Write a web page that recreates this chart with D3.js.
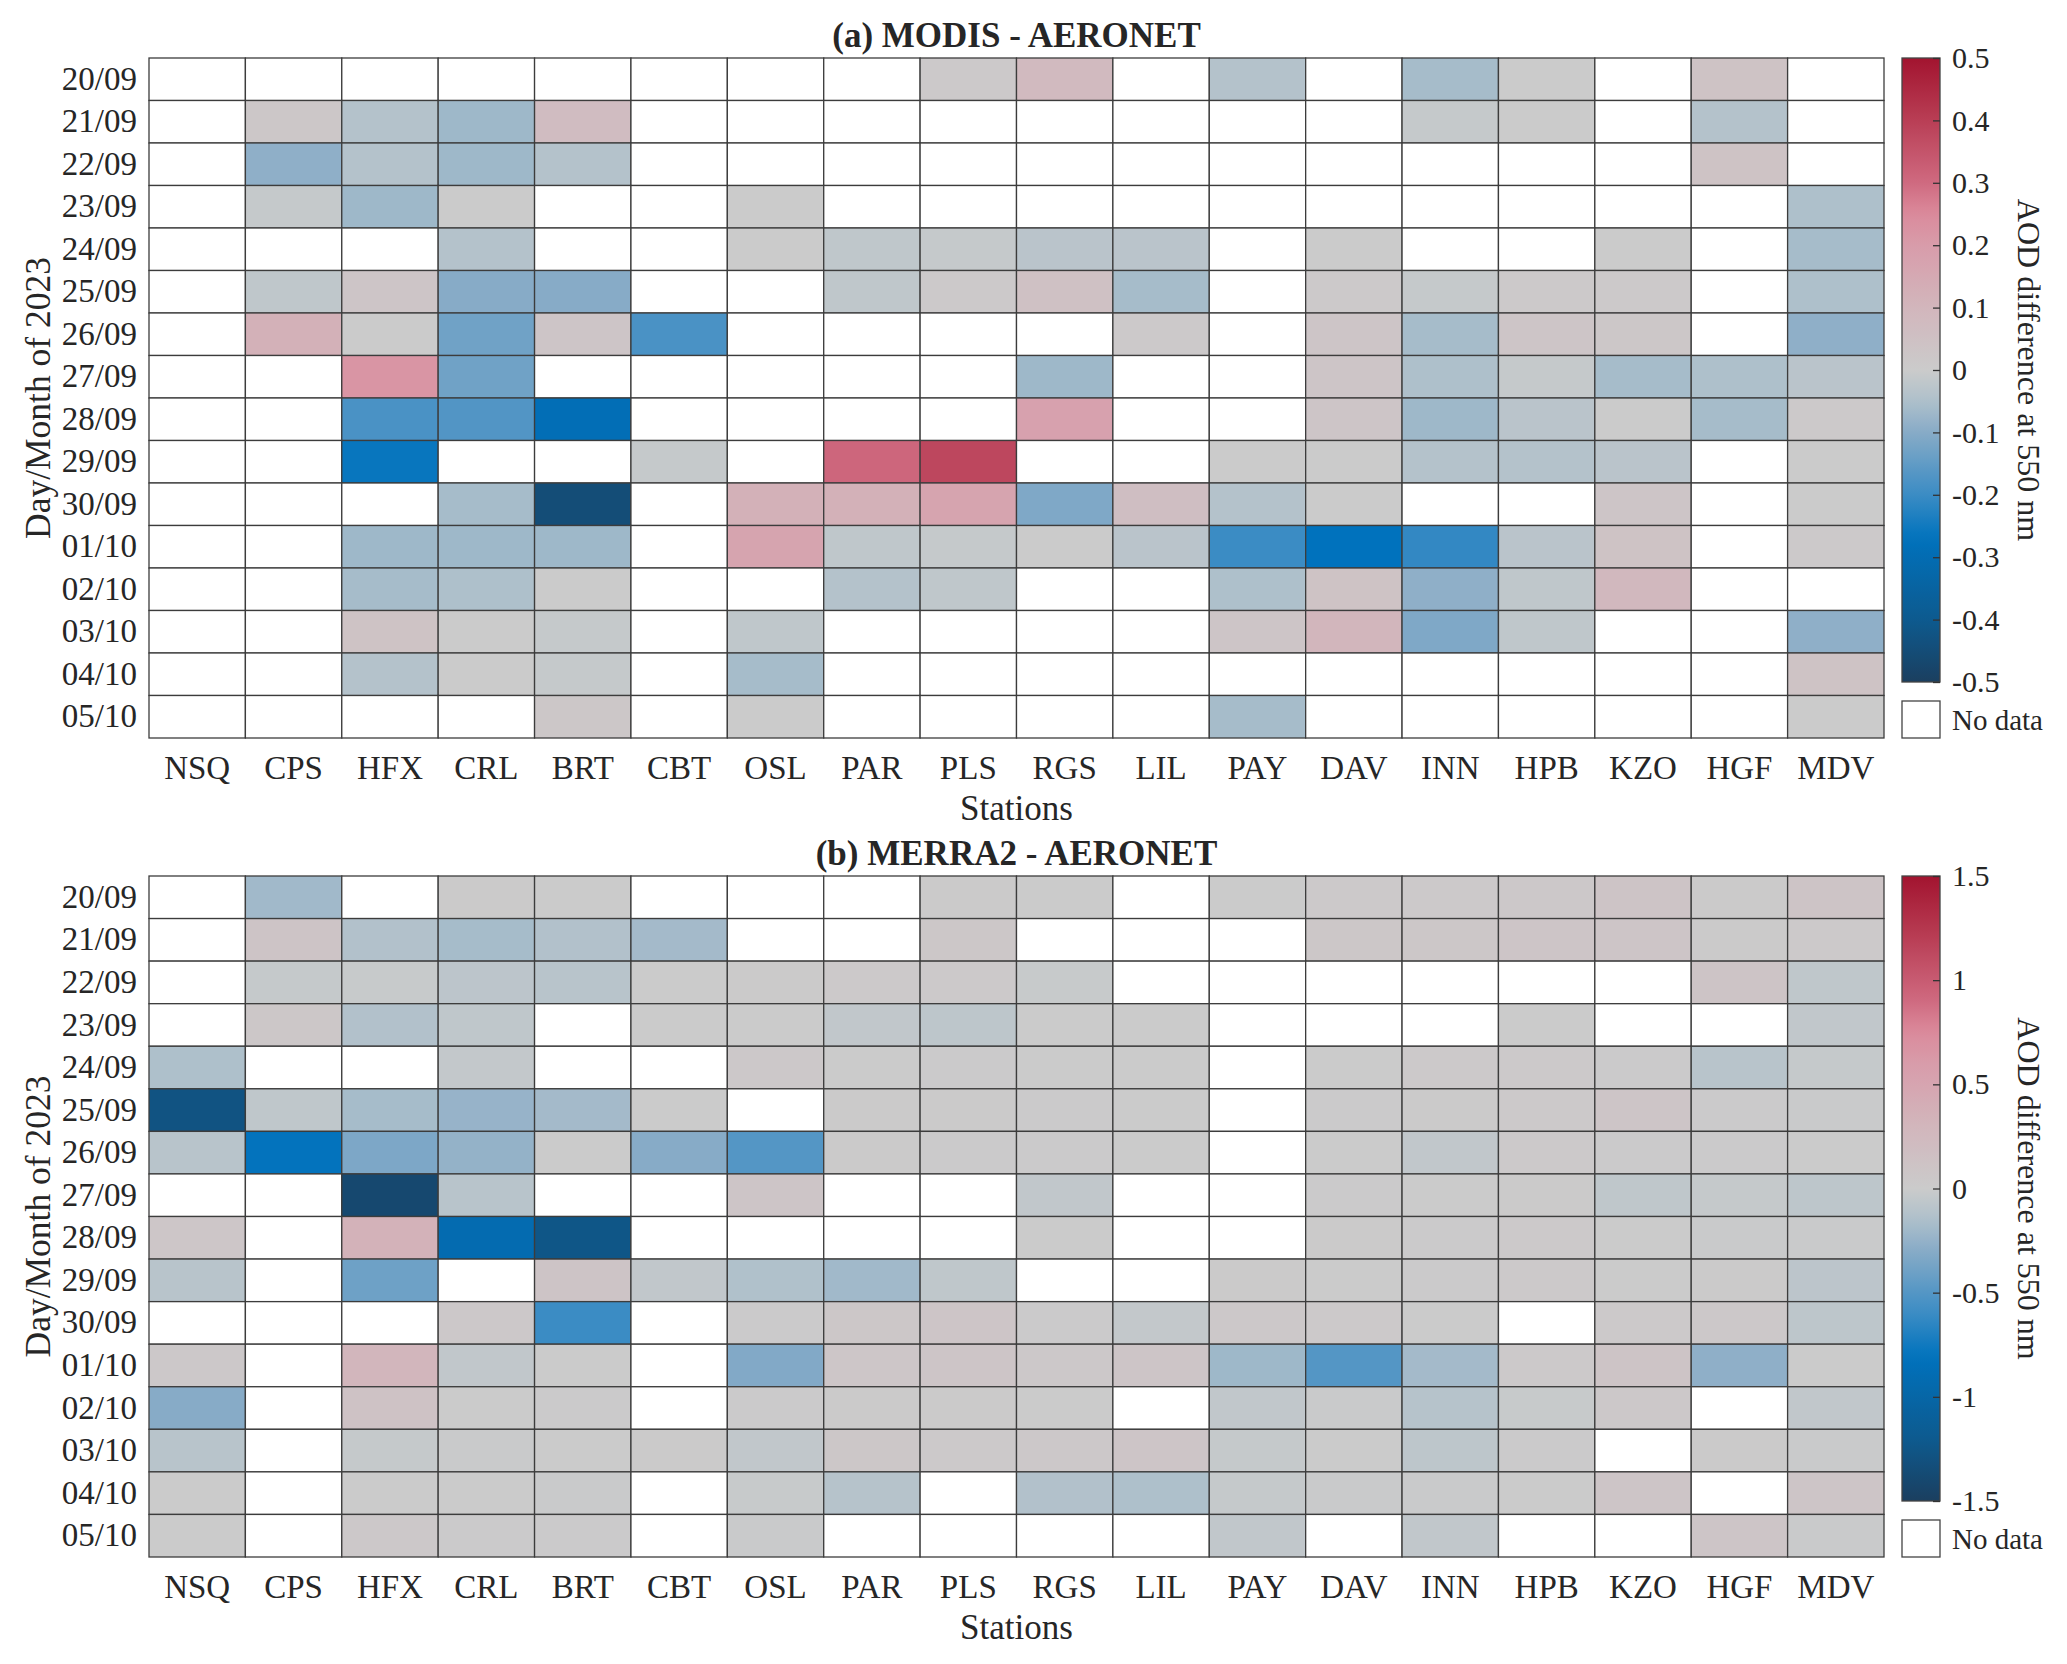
<!DOCTYPE html>
<html>
<head>
<meta charset="utf-8">
<script src="https://cdn.jsdelivr.net/npm/d3@7"></script>
<style>
  body { margin: 0; background: #fff; }
  svg text { font-family: "Liberation Serif", "Times New Roman", serif; fill: #262626; }
</style>
</head>
<body>
<div id="canvas"></div>
<script>
// stations and days
var stations = ['NSQ','CPS','HFX','CRL','BRT','CBT','OSL','PAR','PLS','RGS','LIL','PAY','DAV','INN','HPB','KZO','HGF','MDV'];
var days = ['20/09','21/09','22/09','23/09','24/09','25/09','26/09','27/09','28/09','29/09','30/09','01/10','02/10','03/10','04/10','05/10'];

// (a) MODIS - AERONET, one row per day, null = no data
var modis = [
  [null,null,null,null,null,null,null,null,0.01,0.08,null,-0.04,null,-0.06,0.0,null,0.04,null],
  [null,0.02,-0.04,-0.07,0.07,null,null,null,null,null,null,null,null,-0.01,0.0,null,-0.04,null],
  [null,-0.09,-0.04,-0.07,-0.04,null,null,null,null,null,null,null,null,null,null,null,0.04,null],
  [null,-0.01,-0.07,0.0,null,null,0.0,null,null,null,null,null,null,null,null,null,null,-0.05],
  [null,null,null,-0.04,null,null,0.0,-0.02,-0.01,-0.03,-0.03,null,0.0,null,null,0.0,null,-0.06],
  [null,-0.02,0.03,-0.1,-0.1,null,null,-0.02,0.01,0.05,-0.06,null,0.01,-0.01,0.01,0.01,null,-0.05],
  [null,0.12,0.0,-0.13,0.03,-0.18,null,null,null,null,0.01,null,0.03,-0.06,0.03,0.02,null,-0.09],
  [null,null,0.22,-0.13,null,null,null,null,null,-0.07,null,null,0.03,-0.05,-0.01,-0.06,-0.05,-0.03],
  [null,null,-0.18,-0.17,-0.29,null,null,null,null,0.18,null,null,0.03,-0.07,-0.03,0.0,-0.06,0.01],
  [null,null,-0.26,null,null,-0.01,null,0.31,0.38,null,null,0.0,0.0,-0.04,-0.04,-0.03,null,0.0],
  [null,null,null,-0.06,-0.45,null,0.12,0.12,0.17,-0.11,0.06,-0.04,0.0,null,null,0.03,null,0.0],
  [null,null,-0.07,-0.07,-0.07,null,0.17,-0.02,-0.01,0.0,-0.03,-0.2,-0.27,-0.21,-0.03,0.04,null,0.01],
  [null,null,-0.06,-0.05,0.0,null,null,-0.04,-0.02,null,null,-0.05,0.04,-0.09,-0.02,0.09,null,null],
  [null,null,0.04,0.0,-0.01,null,-0.02,null,null,null,null,0.03,0.1,-0.11,-0.02,null,null,-0.09],
  [null,null,-0.04,0.0,-0.01,null,-0.06,null,null,null,null,null,null,null,null,null,null,0.04],
  [null,null,null,null,0.02,null,0.0,null,null,null,null,-0.06,null,null,null,null,null,0.0]
];

// (b) MERRA2 - AERONET
var merra = [
  [null,-0.2,null,0.02,0.0,null,null,null,0.02,0.0,null,0.0,0.03,0.03,0.05,0.1,0.02,0.1],
  [null,0.1,-0.13,-0.18,-0.13,-0.19,null,null,0.06,null,null,null,0.06,0.06,0.08,0.08,0.02,0.03],
  [null,-0.03,-0.02,-0.08,-0.1,0.0,0.02,0.03,0.03,-0.02,null,null,null,null,null,null,0.1,-0.06],
  [null,0.06,-0.13,-0.06,null,0.0,0.0,-0.05,-0.07,0.0,0.0,null,null,null,0.0,null,null,-0.05],
  [-0.15,null,null,-0.04,null,null,0.05,0.0,0.01,0.0,0.0,null,0.0,0.03,0.03,0.01,-0.1,-0.03],
  [-1.28,-0.06,-0.18,-0.24,-0.19,0.0,null,0.02,0.02,0.01,0.0,null,0.01,0.02,0.03,0.09,0.01,-0.01],
  [-0.1,-0.8,-0.34,-0.25,0.0,-0.3,-0.5,0.02,0.01,0.01,0.0,null,0.0,-0.05,0.03,0.01,0.01,0.0],
  [null,null,-1.4,-0.1,null,null,0.09,null,null,-0.05,null,null,0.01,0.0,0.02,-0.06,-0.03,-0.07],
  [0.07,null,0.35,-0.92,-1.25,null,null,null,null,0.0,null,null,0.02,0.01,0.03,0.0,-0.01,-0.01],
  [-0.1,null,-0.4,null,0.1,-0.05,-0.14,-0.2,-0.06,null,null,0.02,0.0,0.01,0.03,0.0,0.02,-0.08],
  [null,null,null,0.05,-0.6,null,0.01,0.06,0.09,0.01,-0.04,0.04,0.03,0.0,null,0.03,0.05,-0.07],
  [0.04,null,0.3,-0.05,0.0,null,-0.32,0.07,0.09,0.04,0.09,-0.21,-0.5,-0.19,0.03,0.1,-0.27,0.0],
  [-0.3,null,0.13,0.0,0.01,null,0.01,0.02,0.02,0.0,null,-0.05,-0.01,-0.11,-0.02,0.05,null,-0.05],
  [-0.1,null,-0.03,-0.01,0.0,0.02,-0.05,0.06,0.03,0.04,0.09,-0.03,0.0,-0.07,0.01,null,0.02,-0.01],
  [0.0,null,0.0,0.0,-0.01,null,-0.02,-0.11,null,-0.13,-0.15,-0.03,-0.01,-0.01,0.0,0.08,null,0.09],
  [0.0,null,0.04,0.01,0.01,null,-0.01,null,null,null,null,-0.05,null,-0.05,null,null,0.09,-0.01]
];

// colour map stops (fraction of the colour limit) and colours
var cmapStops = [-1,-0.8,-0.54,-0.4,-0.2,-0.1,0,0.2,0.4,0.5,0.6,0.8,1];
var cmapColors = ['#1b3f5f','#0d5a8f','#0072bd','#3b8cc4','#87abc7','#aec0cb','#cbcbcb','#d2b6bc','#d89caa','#db8a9c','#cf6a80','#b93e55','#a2142f'];

var panels = [
  {title:'(a) MODIS - AERONET', data:modis, lim:0.5, ticks:d3.range(-5,6).map(function(d){return d/10;}), top:58, bottom:738},
  {title:'(b) MERRA2 - AERONET', data:merra, lim:1.5, ticks:[-1.5,-1,-0.5,0,0.5,1,1.5], top:876, bottom:1557}
];

var W = 2067, H = 1664;
var left = 149, right = 1884;
var cbX = 1902, cbW = 38;

var svg = d3.select('#canvas')
  .append('svg')
  .attr('width', W)
  .attr('height', H);

var defs = svg.append('defs');

function fmt(d){ return String(+d.toFixed(1)); }

panels.forEach(function(p, pi){
  var g = svg.append('g');

  var scaleX = d3.scaleBand().domain(stations).range([left, right]);
  var scaleY = d3.scaleBand().domain(days).range([p.top, p.bottom]);
  var color = d3.scaleLinear()
    .domain(cmapStops.map(function(s){ return s * p.lim; }))
    .range(cmapColors)
    .clamp(true);

  // flatten rows into cells
  var cells = [];
  p.data.forEach(function(row, i){
    row.forEach(function(v, j){
      cells.push({day: days[i], station: stations[j], value: v});
    });
  });

  g.selectAll('rect.cell')
    .data(cells)
    .enter()
    .append('rect')
    .attr('class','cell')
    .attr('x', function(d){ return scaleX(d.station); })
    .attr('y', function(d){ return scaleY(d.day); })
    .attr('width', scaleX.bandwidth())
    .attr('height', scaleY.bandwidth())
    .style('fill', function(d){ return d.value === null ? '#ffffff' : color(d.value); })
    .style('stroke', '#3c3c3c')
    .style('stroke-width', 1.3);

  // axes
  var axisX = d3.axisBottom(scaleX).tickSize(0).tickPadding(18);
  var gx = g.append('g')
    .attr('transform','translate(0,' + p.bottom + ')')
    .call(axisX);
  gx.select('.domain').remove();
  gx.selectAll('text').style('font-size','33px').style('font-family','"Liberation Serif", serif').attr('fill','#262626');

  var axisY = d3.axisLeft(scaleY).tickSize(0).tickPadding(12);
  var gy = g.append('g')
    .attr('transform','translate(' + left + ',0)')
    .call(axisY);
  gy.select('.domain').remove();
  gy.selectAll('text').style('font-size','33px').style('font-family','"Liberation Serif", serif').attr('fill','#262626');

  g.append('text')
    .attr('x', (left + right) / 2)
    .attr('y', p.top - 11)
    .attr('text-anchor','middle')
    .style('font-size','35px')
    .style('font-weight','bold')
    .text(p.title);

  g.append('text')
    .attr('x', (left + right) / 2)
    .attr('y', p.bottom + 82)
    .attr('text-anchor','middle')
    .style('font-size','35px')
    .text('Stations');

  g.append('text')
    .attr('transform','translate(50,' + ((p.top + p.bottom) / 2) + ') rotate(-90)')
    .attr('text-anchor','middle')
    .style('font-size','35.5px')
    .text('Day/Month of 2023');

  // colour bar
  var cbTop = p.top, cbBot = p.bottom - 56;
  var grad = defs.append('linearGradient')
    .attr('id','cb' + pi)
    .attr('x1','0').attr('y1','1').attr('x2','0').attr('y2','0');
  d3.range(0, 1.0001, 0.02).forEach(function(f){
    grad.append('stop')
      .attr('offset', f)
      .attr('stop-color', color(-p.lim + 2 * p.lim * f));
  });
  g.append('rect')
    .attr('x', cbX).attr('y', cbTop)
    .attr('width', cbW).attr('height', cbBot - cbTop)
    .style('fill','url(#cb' + pi + ')')
    .style('stroke','#444').style('stroke-width',1.3);

  var scaleC = d3.scaleLinear().domain([-p.lim, p.lim]).range([cbBot, cbTop]);
  var axisC = d3.axisRight(scaleC)
    .tickValues(p.ticks)
    .tickFormat(fmt)
    .tickSizeInner(-7)
    .tickSizeOuter(0)
    .tickPadding(12);
  var gc = g.append('g')
    .attr('transform','translate(' + (cbX + cbW) + ',0)')
    .attr('font-family', '"Liberation Serif", serif')
    .call(axisC);
  gc.attr('font-family', '"Liberation Serif", serif');
  gc.select('.domain').remove();
  gc.selectAll('line').attr('stroke','#333').attr('stroke-width',1.3);
  gc.selectAll('text').style('font-size','30px').style('font-family','"Liberation Serif", serif').attr('fill','#262626');

  g.append('text')
    .attr('transform','translate(2018,' + ((cbTop + cbBot) / 2) + ') rotate(90)')
    .attr('text-anchor','middle')
    .style('font-size','32px')
    .text('AOD difference at 550 nm');

  // no data legend
  g.append('rect')
    .attr('x', cbX).attr('y', p.bottom - 37)
    .attr('width', cbW).attr('height', 37)
    .style('fill','#fff')
    .style('stroke','#444').style('stroke-width',1.3);
  g.append('text')
    .attr('x', cbX + cbW + 12)
    .attr('y', p.bottom - 18)
    .attr('dy','0.35em')
    .style('font-size','29px')
    .text('No data');
});
</script>
</body>
</html>
